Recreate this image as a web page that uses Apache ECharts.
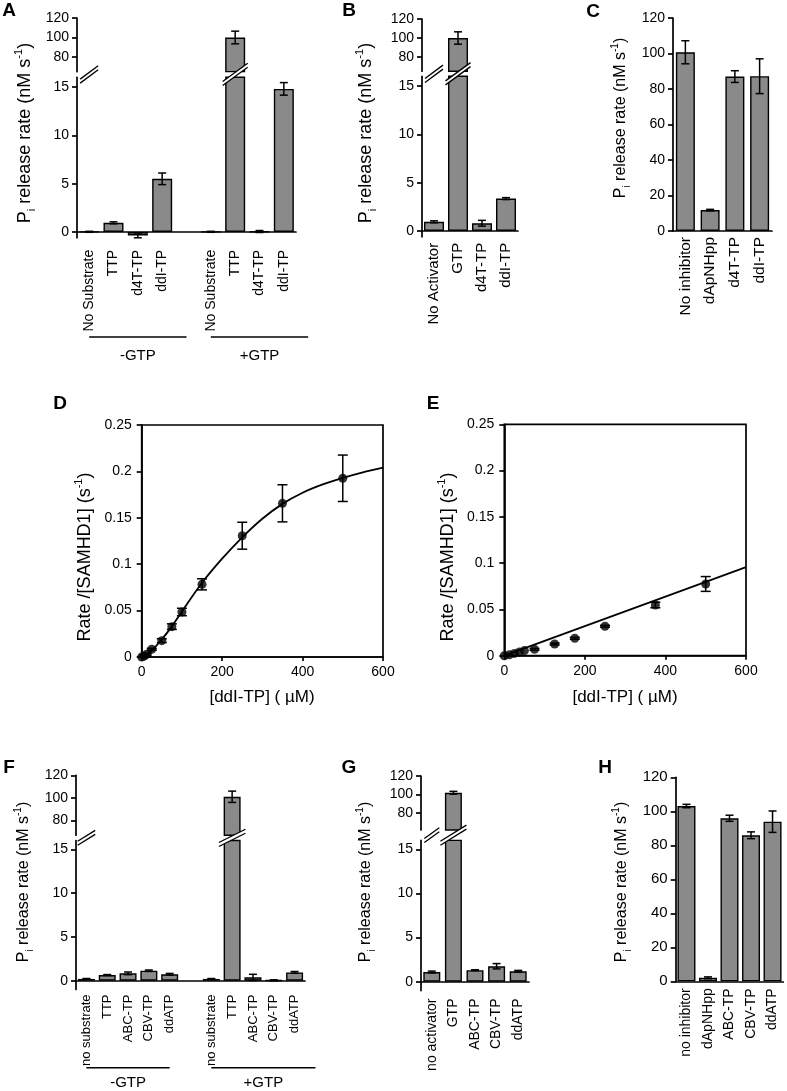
<!DOCTYPE html>
<html><head><meta charset="utf-8">
<script src="https://cdn.jsdelivr.net/npm/echarts@6/dist/echarts.min.js"></script>
<style>html,body{margin:0;padding:0;background:#fff}#c{width:787px;height:1091px}</style>
</head><body><div id="c"></div>
<script>
// ---------------- DATA ----------------
const catA = ['No Substrate','TTP','d4T-TP','ddI-TP','','No Substrate','TTP','d4T-TP','ddI-TP'];
const valA = [0.02, 0.95, -0.35, 5.5, null, 0.02, 100, 0.05, 14.8];
const errA = [0.05, 0.1, 0.25, 0.6, null, 0.05, 6.5, 0.1, 0.65];

const catB = ['No Activator','GTP','d4T-TP','ddI-TP'];
const valB = [0.95, 100, 0.8, 3.35];
const errB = [0.1, 6.5, 0.3, 0.1];

const catC = ['No inhibitor','dApNHpp','d4T-TP','ddI-TP'];
const valC = [100.7, 11.8, 87, 87.2];
const errC = [6.5, 0.4, 3.3, 9.8];

const concD = [0, 6.25, 12.5, 25, 50, 75, 100, 150, 250, 350, 500];
const rateD = [0, 0.001, 0.003, 0.0083, 0.0176, 0.0327, 0.0485, 0.0783, 0.1307, 0.1656, 0.1926];
const errD  = [0, 0.001, 0.001, 0.001, 0.002, 0.003, 0.004, 0.006, 0.0145, 0.02, 0.025];
const fitXD = [0, 25, 50, 75, 100, 150, 200, 250, 300, 350, 400, 450, 500, 550, 600];
const fitYD = [0, 0.007, 0.019, 0.033, 0.049, 0.080, 0.106, 0.129, 0.149, 0.165, 0.177, 0.186, 0.193, 0.199, 0.204];

const concE = [0, 12.5, 25, 37.5, 50, 75, 125, 175, 250, 375, 500];
const rateE = [0, 0.001, 0.0025, 0.004, 0.0055, 0.0069, 0.0126, 0.0188, 0.0318, 0.0548, 0.0775];
const errE  = [0, 0, 0, 0, 0, 0.001, 0.001, 0.001, 0.001, 0.003, 0.008];
const fitXE = [0, 600];
const fitYE = [0, 0.0956];

const catF = ['no substrate','TTP','ABC-TP','CBV-TP','ddATP','','no substrate','TTP','ABC-TP','CBV-TP','ddATP'];
const valF = [0.2, 0.65, 0.84, 1.14, 0.73, null, 0.2, 101, 0.38, 0.05, 0.95];
const errF = [0.05, 0.05, 0.15, 0.08, 0.1, null, 0.05, 5, 0.35, 0.05, 0.1];

const catG = ['no activator','GTP','ABC-TP','CBV-TP','ddATP'];
const valG = [1.1, 102, 1.3, 1.75, 1.18];
const errG = [0.1, 1.5, 0.05, 0.3, 0.1];

const catH = ['no inhibitor','dApNHpp','ABC-TP','CBV-TP','ddATP'];
const valH = [103.1, 2.1, 95.9, 85.9, 93.9];
const errH = [1, 0.5, 1.8, 2, 6.3];

const ticksLow = [0, 5, 10, 15];
const ticksHigh = [80, 100, 120];
const groupNames = ['-GTP', '+GTP'];
const barTitle = '{a|P}{b|i}{a| release rate (nM s}{c|-1}{a|)}';
const kinTitle = '{a|Rate /[SAMHD1] (s}{c|-1}{a|)}';
const kinXTitle = '[ddI-TP] ( µM)';

// ---------------- STYLE / LAYOUT ----------------
const FONT = '"Liberation Sans", Arial, Helvetica, sans-serif';
const GRAY = '#8a8a8a';
const AXW = 1.7;
const grids = [], xAxes = [], yAxes = [], series = [];
const brokenPanels = [];

function errRender(cap) {
  return function (params, api) {
    const x = api.value(0), v = api.value(1), e = api.value(2);
    if (!e) return null;
    const hi = api.coord([x, v + e]), lo = api.coord([x, v - e]);
    const st = { stroke: '#000', lineWidth: 1.5 };
    return { type: 'group', children: [
      { type: 'line', shape: { x1: hi[0], y1: hi[1], x2: lo[0], y2: lo[1] }, style: st },
      { type: 'line', shape: { x1: hi[0] - cap, y1: hi[1], x2: hi[0] + cap, y2: hi[1] }, style: st },
      { type: 'line', shape: { x1: lo[0] - cap, y1: lo[1], x2: lo[0] + cap, y2: lo[1] }, style: st }
    ]};
  };
}

function addGrid(g) { grids.push(Object.assign({ outerBoundsMode: 'none', containLabel: false }, g)); return grids.length - 1; }

function valueAxis(gi, min, max, extra, fs) {
  return Object.assign({
    type: 'value', gridIndex: gi, min: min, max: max,
    axisLine: { show: true, lineStyle: { color: '#000', width: AXW } },
    axisTick: { show: true, length: 5, lineStyle: { color: '#000', width: AXW } },
    axisLabel: { color: '#000', fontSize: fs, fontFamily: FONT, margin: 8 },
    splitLine: { show: false }
  }, extra);
}

function addBarSeries(gi, vals, errs, bw, inRange, barFilter) {
  series.push({
    type: 'bar', xAxisIndex: gi, yAxisIndex: gi, barWidth: bw, clip: true, silent: true,
    data: vals.map(v => (v == null || !barFilter(v)) ? '-' : v),
    itemStyle: { color: GRAY, borderColor: '#000', borderWidth: 1.4 }
  });
  const ed = [];
  vals.forEach((v, i) => { if (v != null && inRange(v)) ed.push([i, v, errs[i]]); });
  series.push({ type: 'custom', xAxisIndex: gi, yAxisIndex: gi, data: ed, renderItem: errRender(4), z: 5, clip: false, silent: true });
}

function addBroken(cats, vals, errs, p) {
  const up = addGrid({ left: p.left, width: p.width, top: p.topY, height: (p.highMax - p.highMin) * p.pxHigh });
  xAxes.push({ type: 'category', gridIndex: up, data: cats, show: false });
  yAxes.push(valueAxis(up, p.highMin, p.highMax, {}, p.tickFont));
  yAxes[up].axisTick.customValues = ticksHigh;
  yAxes[up].axisLabel.customValues = ticksHigh;
  const lo = addGrid({ left: p.left, width: p.width, top: p.zeroY - p.lowMax * p.pxLow, height: (p.lowMax - p.lowMin) * p.pxLow });
  xAxes.push({ type: 'category', gridIndex: lo, data: cats,
    axisLine: { onZero: true, lineStyle: { color: '#000', width: AXW } }, axisTick: { show: false },
    axisLabel: { rotate: 90, interval: 0, color: '#000', fontSize: p.catFont, fontFamily: FONT, margin: p.catMargin } });
  yAxes.push(valueAxis(lo, p.lowMin, p.lowMax, {}, p.tickFont));
  yAxes[lo].axisTick.customValues = ticksLow;
  yAxes[lo].axisLabel.customValues = ticksLow;
  addBarSeries(up, vals, errs, p.barWidth, v => v > p.highMin, v => v > p.highMin);
  addBarSeries(lo, vals, errs, p.barWidth, v => v < p.lowMax, v => true);
  brokenPanels.push({ up: up, lo: lo, vals: vals, p: p });
  return lo;
}

function addSimple(cats, vals, errs, p) {
  const gi = addGrid({ left: p.left, width: p.width, top: p.top, height: p.height });
  xAxes.push({ type: 'category', gridIndex: gi, data: cats,
    axisLine: { lineStyle: { color: '#000', width: AXW } }, axisTick: { show: false },
    axisLabel: { rotate: 90, interval: 0, color: '#000', fontSize: p.catFont, fontFamily: FONT, margin: p.catMargin } });
  yAxes.push(valueAxis(gi, 0, 120, { interval: 20 }, p.tickFont));
  addBarSeries(gi, vals, errs, p.barWidth, v => true, v => true);
}

function addKinetic(xs, ys, es, fx, fy, p) {
  const gi = addGrid({ left: p.left, width: p.width, top: p.top, height: p.height, show: true, borderColor: '#000', borderWidth: AXW, backgroundColor: 'transparent' });
  xAxes.push({ type: 'value', gridIndex: gi, min: 0, max: 600, interval: 200,
    axisLine: { show: true, onZero: false, lineStyle: { color: '#000', width: AXW } },
    axisTick: { show: true, length: 4, lineStyle: { color: '#000', width: AXW } },
    axisLabel: { color: '#000', fontSize: 14, fontFamily: FONT, margin: 8 }, splitLine: { show: false } });
  yAxes.push(valueAxis(gi, 0, 0.25, { interval: 0.05 }, 14));
  yAxes[gi].axisLabel.margin = 10;
  series.push({ type: 'line', xAxisIndex: gi, yAxisIndex: gi, data: fx.map((x, i) => [x, fy[i]]), smooth: 0.3,
    showSymbol: false, lineStyle: { color: '#000', width: 1.8 }, silent: true, z: 3 });
  series.push({ type: 'custom', xAxisIndex: gi, yAxisIndex: gi, data: xs.map((x, i) => [x, ys[i], es[i]]),
    renderItem: errRender(5), z: 4, silent: true });
  series.push({ type: 'scatter', xAxisIndex: gi, yAxisIndex: gi, data: xs.map((x, i) => [x, ys[i]]),
    symbol: 'circle', symbolSize: 9, itemStyle: { color: '#000' }, z: 5, silent: true });
}

const loA = addBroken(catA, valA, errA, { left: 77, width: 219, zeroY: 232, pxLow: 9.67, lowMin: -0.6, lowMax: 16, topY: 18, pxHigh: 0.975, highMin: 65, highMax: 120, barWidth: 20, tickFont: 14, catFont: 14, catMargin: 12, axisW: 9, axisK: -0.74, barW: 12.5, barK: -0.73 });
addBroken(catB, valB, errB, { left: 422, width: 96, zeroY: 231, pxLow: 9.67, lowMin: -0.6, lowMax: 16, topY: 19, pxHigh: 0.95, highMin: 65, highMax: 120, barWidth: 20, tickFont: 14, catFont: 15, catMargin: 6, axisW: 9, axisK: -0.74, barW: 12.5, barK: -0.73 });
addSimple(catC, valC, errC, { left: 673, width: 99, top: 18, height: 213, barWidth: 19, tickFont: 14, catFont: 15.5, catMargin: 6 });
addKinetic(concD, rateD, errD, fitXD, fitYD, { left: 141.7, top: 425, width: 241.3, height: 232 });
addKinetic(concE, rateE, errE, fitXE, fitYE, { left: 504.3, top: 424.3, width: 241.7, height: 231.4 });
const loF = addBroken(catF, valF, errF, { left: 76, width: 229, zeroY: 980.7, pxLow: 8.76, lowMin: -1, lowMax: 16, topY: 775.3, pxHigh: 1.13, highMin: 67, highMax: 120, barWidth: 17, tickFont: 14, catFont: 13, catMargin: 5, axisW: 8.8, axisK: -0.62, barW: 13.3, barK: -0.5 });
addBroken(catG, valG, errG, { left: 421, width: 108, zeroY: 981.7, pxLow: 8.83, lowMin: -1, lowMax: 16, topY: 776, pxHigh: 0.93, highMin: 62, highMax: 120, barWidth: 17, tickFont: 14, catFont: 14, catMargin: 8, axisW: 7.5, axisK: -0.72, barW: 13, barK: -0.62 });
addSimple(catH, valH, errH, { left: 675.7, width: 107.6, top: 777.3, height: 204, barWidth: 18, tickFont: 15, catFont: 14, catMargin: 7 });

const chart = echarts.init(document.getElementById('c'), null, { renderer: 'canvas' });
chart.setOption({ animation: false, backgroundColor: '#fff', textStyle: { fontFamily: FONT },
  grid: grids, xAxis: xAxes, yAxis: yAxes, series: series });

// ---------------- ANNOTATIONS ----------------
const gfx = [];
function breakMark(xc, yc, w, k, g) {
  const A = [xc - w, yc + g / 2 - k * w], B = [xc + w, yc + g / 2 + k * w];
  const C = [xc + w, yc - g / 2 + k * w], D = [xc - w, yc - g / 2 - k * w];
  gfx.push({ type: 'polygon', shape: { points: [A, B, C, D] }, style: { fill: '#fff' }, z: 100, silent: true });
  gfx.push({ type: 'line', shape: { x1: A[0], y1: A[1], x2: B[0], y2: B[1] }, style: { stroke: '#000', lineWidth: 1.3 }, z: 101, silent: true });
  gfx.push({ type: 'line', shape: { x1: D[0], y1: D[1], x2: C[0], y2: C[1] }, style: { stroke: '#000', lineWidth: 1.3 }, z: 101, silent: true });
}
brokenPanels.forEach(bp => {
  const p = bp.p;
  const upBottom = chart.convertToPixel({ xAxisIndex: bp.up, yAxisIndex: bp.up }, [0, p.highMin])[1];
  const loTop = chart.convertToPixel({ xAxisIndex: bp.lo, yAxisIndex: bp.lo }, [0, p.lowMax])[1];
  const yc = (upBottom + loTop) / 2;
  const ax = chart.convertToPixel({ xAxisIndex: bp.lo, yAxisIndex: bp.lo }, [-0.5, 0])[0];
  breakMark(ax, yc, p.axisW, p.axisK, 4);
  bp.vals.forEach((v, i) => {
    if (v != null && v > p.highMin) {
      const bx = chart.convertToPixel({ xAxisIndex: bp.lo, yAxisIndex: bp.lo }, [i, 0])[0];
      breakMark(bx, yc, p.barW, p.barK, 4);
    }
  });
});

function groupLines(gi, ranges, lineOff, textOff) {
  ranges.forEach((r, j) => {
    const a = chart.convertToPixel({ xAxisIndex: gi, yAxisIndex: gi }, [r[0], 0]);
    const b = chart.convertToPixel({ xAxisIndex: gi, yAxisIndex: gi }, [r[1], 0]);
    gfx.push({ type: 'line', shape: { x1: a[0], y1: a[1] + lineOff, x2: b[0], y2: b[1] + lineOff }, style: { stroke: '#000', lineWidth: 1.5 }, silent: true });
    gfx.push({ type: 'text', x: (a[0] + b[0]) / 2, y: a[1] + textOff, silent: true,
      style: { text: groupNames[j], fontSize: 15, fontFamily: FONT, fill: '#000', align: 'center', verticalAlign: 'middle' } });
  });
}
groupLines(loA, [[-0.45, 3.85], [4.5, 8.5]], 105, 124);
groupLines(loF, [[-0.4, 4.15], [5.6, 10.5]], 87, 102);

function vTitle(text, x, y, fs) {
  gfx.push({ type: 'text', x: x, y: y, rotation: Math.PI / 2, silent: true,
    style: { text: text, align: 'center', verticalAlign: 'middle', fill: '#000',
      rich: {
        a: { fontSize: fs, fontFamily: FONT, fill: '#000', lineHeight: fs + 6 },
        b: { fontSize: Math.round(fs * 0.62), fontFamily: FONT, fill: '#000', lineHeight: Math.round(fs * 0.62), verticalAlign: 'bottom' },
        c: { fontSize: Math.round(fs * 0.6), fontFamily: FONT, fill: '#000', lineHeight: Math.round(fs * 0.9), verticalAlign: 'top' }
      } } });
}
vTitle(barTitle, 25, 133, 18);
vTitle(barTitle, 366, 133, 18);
vTitle(barTitle, 621, 118, 16);
vTitle(kinTitle, 85, 557, 18);
vTitle(kinTitle, 448, 557, 18);
vTitle(barTitle, 24, 882, 16);
vTitle(barTitle, 366, 882, 16);
vTitle(barTitle, 622, 882, 16);

function hText(text, x, y, fs, bold) {
  gfx.push({ type: 'text', x: x, y: y, silent: true,
    style: { text: text, fontSize: fs, fontWeight: bold ? 'bold' : 'normal', fontFamily: FONT, fill: '#000', align: 'center', verticalAlign: 'middle' } });
}
hText(kinXTitle, 262, 697, 17, false);
hText(kinXTitle, 625, 697, 17, false);
[['A', 9, 11], ['B', 349, 11], ['C', 593, 12], ['D', 60, 404], ['E', 433, 404], ['F', 9, 768], ['G', 349, 768], ['H', 605, 768]]
  .forEach(l => hText(l[0], l[1], l[2], 19, true));

chart.setOption({ graphic: { elements: gfx } });
</script></body></html>
